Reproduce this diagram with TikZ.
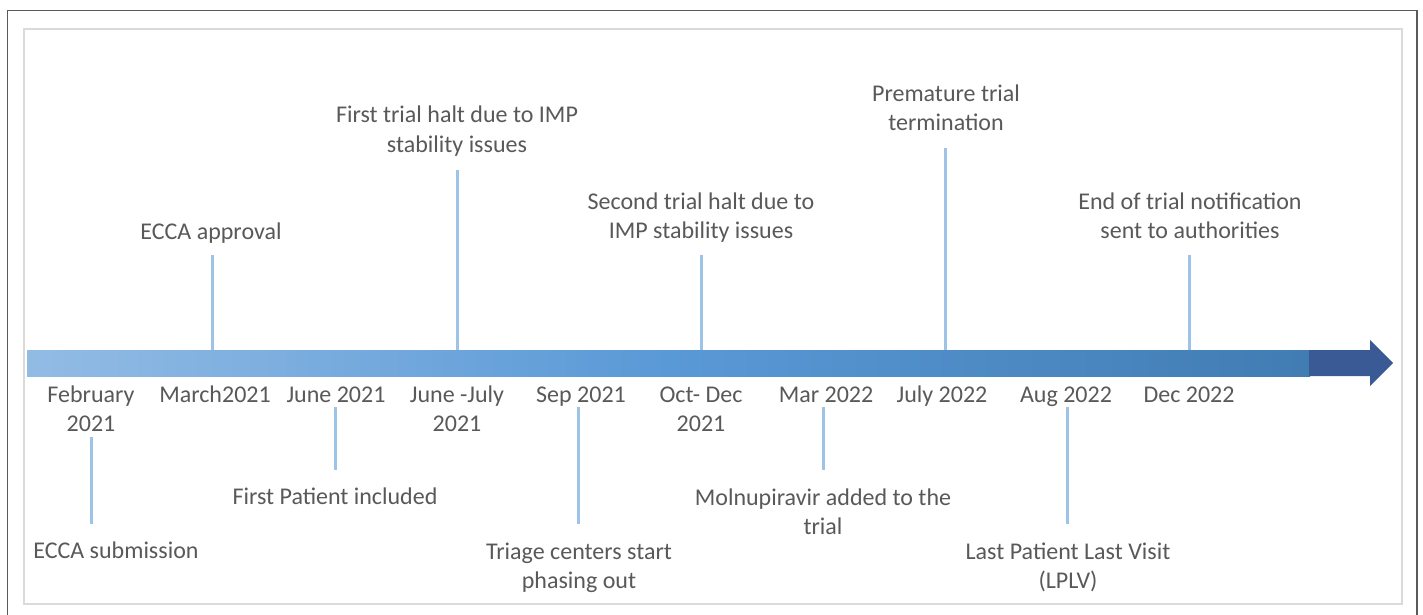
\documentclass[tikz,border=0pt]{standalone}
\usepackage{fontspec}
\setmainfont{Carlito}
\definecolor{txt}{RGB}{89,89,89}
\definecolor{tickc}{RGB}{157,195,230}
\definecolor{headc}{RGB}{58,90,150}
\definecolor{outerc}{RGB}{90,90,90}
\definecolor{innerc}{RGB}{218,218,218}
\pgfdeclarehorizontalshading{bandshade}{100bp}{rgb(0bp)=(0.80,0.87,0.95); rgb(50bp)=(0.35,0.60,0.84); rgb(100bp)=(0.16,0.37,0.56)}
\tikzset{
  lbl/.style={text=txt, font=\fontsize{24}{29}\selectfont, align=center, inner sep=0pt, anchor=base},
  tickline/.style={draw=tickc, line width=3pt}
}
\begin{document}
\begin{tikzpicture}[x=1pt,y=-1pt]
\useasboundingbox (0,0) rectangle (1423,615);
\fill[white] (0,0) rectangle (1423,615);
% frames
\begin{scope}
\clip (0,0) rectangle (1423,615);
\draw[outerc, line width=1.5pt] (7.5,10.5) rectangle (1417,630);
\end{scope}
\draw[innerc, line width=2.5pt] (24,29) rectangle (1402,604);
% band
\shade[shading=bandshade] (27,350) rectangle (1310,376);
\fill[headc] (1309,350) -- (1370,350) -- (1370,340) -- (1393,363) -- (1370,386) -- (1370,376) -- (1309,376) -- cycle;
% date labels (anchor base = last line)
\node[lbl] (d1) at (91,431) {February\\2021};
\node[lbl] (d2) at (215,402.5) {March2021};
\node[lbl] (d3) at (336,402.5) {June 2021};
\node[lbl] (d4) at (457,431) {June -July\\2021};
\node[lbl] (d5) at (581,402.5) {Sep 2021};
\node[lbl] (d6) at (701,431) {Oct- Dec\\2021};
\node[lbl] (d7) at (826,402.5) {Mar 2022};
\node[lbl] (d8) at (942,402.5) {July 2022};
\node[lbl] (d9) at (1066,402.5) {Aug 2022};
\node[lbl] (d10) at (1189,402.5) {Dec 2022};
% event labels above
\node[lbl] (e1) at (211,239) {ECCA approval};
\node[lbl] (e2) at (457,152) {First trial halt due to IMP\\stability issues};
\node[lbl] (e3) at (701,238) {Second trial halt due to\\IMP stability issues};
\node[lbl] (e4) at (946,131) {Premature trial\\termination};
\node[lbl] (e5) at (1190,238) {End of trial notification\\sent to authorities};
% event labels below
\node[lbl] (e6) at (116,558) {ECCA submission};
\node[lbl] (e7) at (335,504) {First Patient included};
\node[lbl] (e8) at (579,588) {Triage centers start\\phasing out};
\node[lbl] (e9) at (823,534) {Molnupiravir added to the\\trial};
\node[lbl] (e10) at (1068,588) {Last Patient Last Visit\\(LPLV)};
% tick coordinates
\coordinate (u1a) at (212,350); \coordinate (u1b) at (212,255);
\coordinate (u2a) at (457,350); \coordinate (u2b) at (457,170);
\coordinate (u3a) at (701,350); \coordinate (u3b) at (701,255);
\coordinate (u4a) at (945,350); \coordinate (u4b) at (945,148);
\coordinate (u5a) at (1189,350); \coordinate (u5b) at (1189,255);
\coordinate (l1a) at (91,437); \coordinate (l1b) at (91,524);
\coordinate (l2a) at (335,407); \coordinate (l2b) at (335,470);
\coordinate (l3a) at (578,407); \coordinate (l3b) at (578,524);
\coordinate (l4a) at (823,407); \coordinate (l4b) at (823,470);
\coordinate (l5a) at (1067,407); \coordinate (l5b) at (1067,524);
\foreach \i in {1,...,5} {
  \draw[tickline] (u\i a) -- (u\i b);
  \draw[tickline] (l\i a) -- (l\i b);
}
\end{tikzpicture}
\end{document}
